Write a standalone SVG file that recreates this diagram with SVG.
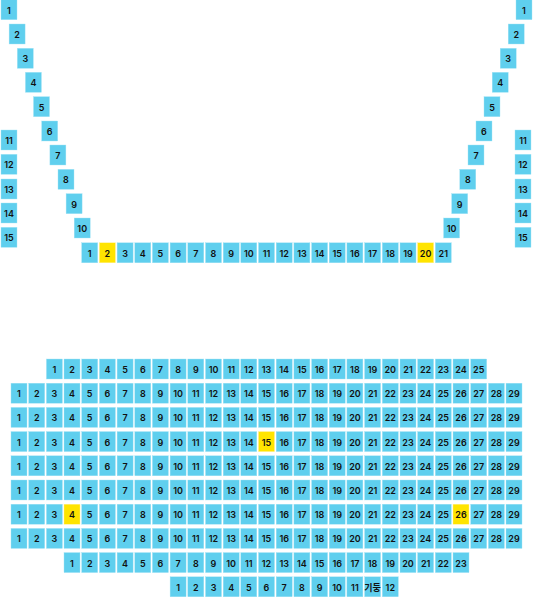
<svg xmlns="http://www.w3.org/2000/svg" width="533" height="597" viewBox="0 0 533 597">
<style>
rect{y:-14px;width:16px;height:20px;fill:#5fcfee;stroke:#a3e4f6;stroke-width:.4px}
rect.h{fill:#ffe400;stroke:#fff09a}
text{font-family:"Inter","Noto Sans CJK KR",sans-serif;font-size:9px;font-weight:600;fill:#111;text-anchor:middle}
</style>
<rect x="0" y="0" width="533" height="597" style="y:0;width:533px;height:597px;fill:#fff;stroke:none"/>
<g id="upper-left">
<g transform="translate(1,13.7)"><rect x="0"/><text x="8">1</text></g>
<g transform="translate(9.1,38)"><rect x="0"/><text x="8">2</text></g>
<g transform="translate(17.3,62.3)"><rect x="0"/><text x="8">3</text></g>
<g transform="translate(25.4,86.3)"><rect x="0"/><text x="8">4</text></g>
<g transform="translate(33.5,110.7)"><rect x="0"/><text x="8">5</text></g>
<g transform="translate(41.7,135)"><rect x="0"/><text x="8">6</text></g>
<g transform="translate(49.9,159)"><rect x="0"/><text x="8">7</text></g>
<g transform="translate(58,183.3)"><rect x="0"/><text x="8">8</text></g>
<g transform="translate(66.1,207.7)"><rect x="0"/><text x="8">9</text></g>
<g transform="translate(74.2,232)"><rect x="0"/><text x="8">10</text></g>
<g transform="translate(1,144)"><rect x="0"/><text x="8">11</text></g>
<g transform="translate(1,168.3)"><rect x="0"/><text x="8">12</text></g>
<g transform="translate(1,193)"><rect x="0"/><text x="8">13</text></g>
<g transform="translate(1,217)"><rect x="0"/><text x="8">14</text></g>
<g transform="translate(1,241.3)"><rect x="0"/><text x="8">15</text></g>
</g>
<g id="upper-right">
<g transform="translate(516,13.7)"><rect x="0"/><text x="8">1</text></g>
<g transform="translate(508.2,38)"><rect x="0"/><text x="8">2</text></g>
<g transform="translate(500.2,62.3)"><rect x="0"/><text x="8">3</text></g>
<g transform="translate(492.2,86.3)"><rect x="0"/><text x="8">4</text></g>
<g transform="translate(484,110.7)"><rect x="0"/><text x="8">5</text></g>
<g transform="translate(476,135)"><rect x="0"/><text x="8">6</text></g>
<g transform="translate(468,159)"><rect x="0"/><text x="8">7</text></g>
<g transform="translate(459.8,183.3)"><rect x="0"/><text x="8">8</text></g>
<g transform="translate(451.7,207.7)"><rect x="0"/><text x="8">9</text></g>
<g transform="translate(443.6,232)"><rect x="0"/><text x="8">10</text></g>
<g transform="translate(515,144)"><rect x="0"/><text x="8">11</text></g>
<g transform="translate(515,168.3)"><rect x="0"/><text x="8">12</text></g>
<g transform="translate(515,193)"><rect x="0"/><text x="8">13</text></g>
<g transform="translate(515,217)"><rect x="0"/><text x="8">14</text></g>
<g transform="translate(515,241.3)"><rect x="0"/><text x="8">15</text></g>
</g>
<g id="upper-front" transform="translate(0,256.8)">
<rect x="81.7"/><text x="89.7">1</text><rect class="h" x="99.4"/><text x="107.4">2</text><rect x="117.1"/><text x="125.1">3</text><rect x="134.8"/><text x="142.8">4</text><rect x="152.4"/><text x="160.4">5</text><rect x="170.1"/><text x="178.1">6</text><rect x="187.8"/><text x="195.8">7</text><rect x="205.5"/><text x="213.5">8</text><rect x="223.2"/><text x="231.2">9</text><rect x="240.8"/><text x="248.8">10</text><rect x="258.5"/><text x="266.5">11</text><rect x="276.2"/><text x="284.2">12</text><rect x="293.9"/><text x="301.9">13</text><rect x="311.6"/><text x="319.6">14</text><rect x="329.2"/><text x="337.2">15</text><rect x="346.9"/><text x="354.9">16</text><rect x="364.6"/><text x="372.6">17</text><rect x="382.3"/><text x="390.3">18</text><rect x="400"/><text x="408">19</text><rect class="h" x="417.6"/><text x="425.6">20</text><rect x="435.3"/><text x="443.3">21</text>
</g>
<g id="row-1" transform="translate(0,373)">
<rect x="46.4"/><text x="54.4">1</text><rect x="64"/><text x="72">2</text><rect x="81.7"/><text x="89.7">3</text><rect x="99.4"/><text x="107.4">4</text><rect x="117.1"/><text x="125.1">5</text><rect x="134.8"/><text x="142.8">6</text><rect x="152.4"/><text x="160.4">7</text><rect x="170.1"/><text x="178.1">8</text><rect x="187.8"/><text x="195.8">9</text><rect x="205.5"/><text x="213.5">10</text><rect x="223.2"/><text x="231.2">11</text><rect x="240.8"/><text x="248.8">12</text><rect x="258.5"/><text x="266.5">13</text><rect x="276.2"/><text x="284.2">14</text><rect x="293.9"/><text x="301.9">15</text><rect x="311.6"/><text x="319.6">16</text><rect x="329.2"/><text x="337.2">17</text><rect x="346.9"/><text x="354.9">18</text><rect x="364.6"/><text x="372.6">19</text><rect x="382.3"/><text x="390.3">20</text><rect x="400"/><text x="408">21</text><rect x="417.6"/><text x="425.6">22</text><rect x="435.3"/><text x="443.3">23</text><rect x="453"/><text x="461">24</text><rect x="470.7"/><text x="478.7">25</text>
</g>
<g id="row-2" transform="translate(0,397.2)">
<rect x="11"/><text x="19">1</text><rect x="28.7"/><text x="36.7">2</text><rect x="46.4"/><text x="54.4">3</text><rect x="64"/><text x="72">4</text><rect x="81.7"/><text x="89.7">5</text><rect x="99.4"/><text x="107.4">6</text><rect x="117.1"/><text x="125.1">7</text><rect x="134.8"/><text x="142.8">8</text><rect x="152.4"/><text x="160.4">9</text><rect x="170.1"/><text x="178.1">10</text><rect x="187.8"/><text x="195.8">11</text><rect x="205.5"/><text x="213.5">12</text><rect x="223.2"/><text x="231.2">13</text><rect x="240.8"/><text x="248.8">14</text><rect x="258.5"/><text x="266.5">15</text><rect x="276.2"/><text x="284.2">16</text><rect x="293.9"/><text x="301.9">17</text><rect x="311.6"/><text x="319.6">18</text><rect x="329.2"/><text x="337.2">19</text><rect x="346.9"/><text x="354.9">20</text><rect x="364.6"/><text x="372.6">21</text><rect x="382.3"/><text x="390.3">22</text><rect x="400"/><text x="408">23</text><rect x="417.6"/><text x="425.6">24</text><rect x="435.3"/><text x="443.3">25</text><rect x="453"/><text x="461">26</text><rect x="470.7"/><text x="478.7">27</text><rect x="488.4"/><text x="496.4">28</text><rect x="506"/><text x="514">29</text>
</g>
<g id="row-3" transform="translate(0,421.4)">
<rect x="11"/><text x="19">1</text><rect x="28.7"/><text x="36.7">2</text><rect x="46.4"/><text x="54.4">3</text><rect x="64"/><text x="72">4</text><rect x="81.7"/><text x="89.7">5</text><rect x="99.4"/><text x="107.4">6</text><rect x="117.1"/><text x="125.1">7</text><rect x="134.8"/><text x="142.8">8</text><rect x="152.4"/><text x="160.4">9</text><rect x="170.1"/><text x="178.1">10</text><rect x="187.8"/><text x="195.8">11</text><rect x="205.5"/><text x="213.5">12</text><rect x="223.2"/><text x="231.2">13</text><rect x="240.8"/><text x="248.8">14</text><rect x="258.5"/><text x="266.5">15</text><rect x="276.2"/><text x="284.2">16</text><rect x="293.9"/><text x="301.9">17</text><rect x="311.6"/><text x="319.6">18</text><rect x="329.2"/><text x="337.2">19</text><rect x="346.9"/><text x="354.9">20</text><rect x="364.6"/><text x="372.6">21</text><rect x="382.3"/><text x="390.3">22</text><rect x="400"/><text x="408">23</text><rect x="417.6"/><text x="425.6">24</text><rect x="435.3"/><text x="443.3">25</text><rect x="453"/><text x="461">26</text><rect x="470.7"/><text x="478.7">27</text><rect x="488.4"/><text x="496.4">28</text><rect x="506"/><text x="514">29</text>
</g>
<g id="row-4" transform="translate(0,445.6)">
<rect x="11"/><text x="19">1</text><rect x="28.7"/><text x="36.7">2</text><rect x="46.4"/><text x="54.4">3</text><rect x="64"/><text x="72">4</text><rect x="81.7"/><text x="89.7">5</text><rect x="99.4"/><text x="107.4">6</text><rect x="117.1"/><text x="125.1">7</text><rect x="134.8"/><text x="142.8">8</text><rect x="152.4"/><text x="160.4">9</text><rect x="170.1"/><text x="178.1">10</text><rect x="187.8"/><text x="195.8">11</text><rect x="205.5"/><text x="213.5">12</text><rect x="223.2"/><text x="231.2">13</text><rect x="240.8"/><text x="248.8">14</text><rect class="h" x="258.5"/><text x="266.5">15</text><rect x="276.2"/><text x="284.2">16</text><rect x="293.9"/><text x="301.9">17</text><rect x="311.6"/><text x="319.6">18</text><rect x="329.2"/><text x="337.2">19</text><rect x="346.9"/><text x="354.9">20</text><rect x="364.6"/><text x="372.6">21</text><rect x="382.3"/><text x="390.3">22</text><rect x="400"/><text x="408">23</text><rect x="417.6"/><text x="425.6">24</text><rect x="435.3"/><text x="443.3">25</text><rect x="453"/><text x="461">26</text><rect x="470.7"/><text x="478.7">27</text><rect x="488.4"/><text x="496.4">28</text><rect x="506"/><text x="514">29</text>
</g>
<g id="row-5" transform="translate(0,469.8)">
<rect x="11"/><text x="19">1</text><rect x="28.7"/><text x="36.7">2</text><rect x="46.4"/><text x="54.4">3</text><rect x="64"/><text x="72">4</text><rect x="81.7"/><text x="89.7">5</text><rect x="99.4"/><text x="107.4">6</text><rect x="117.1"/><text x="125.1">7</text><rect x="134.8"/><text x="142.8">8</text><rect x="152.4"/><text x="160.4">9</text><rect x="170.1"/><text x="178.1">10</text><rect x="187.8"/><text x="195.8">11</text><rect x="205.5"/><text x="213.5">12</text><rect x="223.2"/><text x="231.2">13</text><rect x="240.8"/><text x="248.8">14</text><rect x="258.5"/><text x="266.5">15</text><rect x="276.2"/><text x="284.2">16</text><rect x="293.9"/><text x="301.9">17</text><rect x="311.6"/><text x="319.6">18</text><rect x="329.2"/><text x="337.2">19</text><rect x="346.9"/><text x="354.9">20</text><rect x="364.6"/><text x="372.6">21</text><rect x="382.3"/><text x="390.3">22</text><rect x="400"/><text x="408">23</text><rect x="417.6"/><text x="425.6">24</text><rect x="435.3"/><text x="443.3">25</text><rect x="453"/><text x="461">26</text><rect x="470.7"/><text x="478.7">27</text><rect x="488.4"/><text x="496.4">28</text><rect x="506"/><text x="514">29</text>
</g>
<g id="row-6" transform="translate(0,494)">
<rect x="11"/><text x="19">1</text><rect x="28.7"/><text x="36.7">2</text><rect x="46.4"/><text x="54.4">3</text><rect x="64"/><text x="72">4</text><rect x="81.7"/><text x="89.7">5</text><rect x="99.4"/><text x="107.4">6</text><rect x="117.1"/><text x="125.1">7</text><rect x="134.8"/><text x="142.8">8</text><rect x="152.4"/><text x="160.4">9</text><rect x="170.1"/><text x="178.1">10</text><rect x="187.8"/><text x="195.8">11</text><rect x="205.5"/><text x="213.5">12</text><rect x="223.2"/><text x="231.2">13</text><rect x="240.8"/><text x="248.8">14</text><rect x="258.5"/><text x="266.5">15</text><rect x="276.2"/><text x="284.2">16</text><rect x="293.9"/><text x="301.9">17</text><rect x="311.6"/><text x="319.6">18</text><rect x="329.2"/><text x="337.2">19</text><rect x="346.9"/><text x="354.9">20</text><rect x="364.6"/><text x="372.6">21</text><rect x="382.3"/><text x="390.3">22</text><rect x="400"/><text x="408">23</text><rect x="417.6"/><text x="425.6">24</text><rect x="435.3"/><text x="443.3">25</text><rect x="453"/><text x="461">26</text><rect x="470.7"/><text x="478.7">27</text><rect x="488.4"/><text x="496.4">28</text><rect x="506"/><text x="514">29</text>
</g>
<g id="row-7" transform="translate(0,518.2)">
<rect x="11"/><text x="19">1</text><rect x="28.7"/><text x="36.7">2</text><rect x="46.4"/><text x="54.4">3</text><rect class="h" x="64"/><text x="72">4</text><rect x="81.7"/><text x="89.7">5</text><rect x="99.4"/><text x="107.4">6</text><rect x="117.1"/><text x="125.1">7</text><rect x="134.8"/><text x="142.8">8</text><rect x="152.4"/><text x="160.4">9</text><rect x="170.1"/><text x="178.1">10</text><rect x="187.8"/><text x="195.8">11</text><rect x="205.5"/><text x="213.5">12</text><rect x="223.2"/><text x="231.2">13</text><rect x="240.8"/><text x="248.8">14</text><rect x="258.5"/><text x="266.5">15</text><rect x="276.2"/><text x="284.2">16</text><rect x="293.9"/><text x="301.9">17</text><rect x="311.6"/><text x="319.6">18</text><rect x="329.2"/><text x="337.2">19</text><rect x="346.9"/><text x="354.9">20</text><rect x="364.6"/><text x="372.6">21</text><rect x="382.3"/><text x="390.3">22</text><rect x="400"/><text x="408">23</text><rect x="417.6"/><text x="425.6">24</text><rect x="435.3"/><text x="443.3">25</text><rect class="h" x="453"/><text x="461">26</text><rect x="470.7"/><text x="478.7">27</text><rect x="488.4"/><text x="496.4">28</text><rect x="506"/><text x="514">29</text>
</g>
<g id="row-8" transform="translate(0,542.4)">
<rect x="11"/><text x="19">1</text><rect x="28.7"/><text x="36.7">2</text><rect x="46.4"/><text x="54.4">3</text><rect x="64"/><text x="72">4</text><rect x="81.7"/><text x="89.7">5</text><rect x="99.4"/><text x="107.4">6</text><rect x="117.1"/><text x="125.1">7</text><rect x="134.8"/><text x="142.8">8</text><rect x="152.4"/><text x="160.4">9</text><rect x="170.1"/><text x="178.1">10</text><rect x="187.8"/><text x="195.8">11</text><rect x="205.5"/><text x="213.5">12</text><rect x="223.2"/><text x="231.2">13</text><rect x="240.8"/><text x="248.8">14</text><rect x="258.5"/><text x="266.5">15</text><rect x="276.2"/><text x="284.2">16</text><rect x="293.9"/><text x="301.9">17</text><rect x="311.6"/><text x="319.6">18</text><rect x="329.2"/><text x="337.2">19</text><rect x="346.9"/><text x="354.9">20</text><rect x="364.6"/><text x="372.6">21</text><rect x="382.3"/><text x="390.3">22</text><rect x="400"/><text x="408">23</text><rect x="417.6"/><text x="425.6">24</text><rect x="435.3"/><text x="443.3">25</text><rect x="453"/><text x="461">26</text><rect x="470.7"/><text x="478.7">27</text><rect x="488.4"/><text x="496.4">28</text><rect x="506"/><text x="514">29</text>
</g>
<g id="row-9" transform="translate(0,566.6)">
<rect x="64"/><text x="72">1</text><rect x="81.7"/><text x="89.7">2</text><rect x="99.4"/><text x="107.4">3</text><rect x="117.1"/><text x="125.1">4</text><rect x="134.8"/><text x="142.8">5</text><rect x="152.4"/><text x="160.4">6</text><rect x="170.1"/><text x="178.1">7</text><rect x="187.8"/><text x="195.8">8</text><rect x="205.5"/><text x="213.5">9</text><rect x="223.2"/><text x="231.2">10</text><rect x="240.8"/><text x="248.8">11</text><rect x="258.5"/><text x="266.5">12</text><rect x="276.2"/><text x="284.2">13</text><rect x="293.9"/><text x="301.9">14</text><rect x="311.6"/><text x="319.6">15</text><rect x="329.2"/><text x="337.2">16</text><rect x="346.9"/><text x="354.9">17</text><rect x="364.6"/><text x="372.6">18</text><rect x="382.3"/><text x="390.3">19</text><rect x="400"/><text x="408">20</text><rect x="417.6"/><text x="425.6">21</text><rect x="435.3"/><text x="443.3">22</text><rect x="453"/><text x="461">23</text>
</g>
<g id="row-10" transform="translate(0,590.8)">
<rect x="170.1"/><text x="178.1">1</text><rect x="187.8"/><text x="195.8">2</text><rect x="205.5"/><text x="213.5">3</text><rect x="223.2"/><text x="231.2">4</text><rect x="240.8"/><text x="248.8">5</text><rect x="258.5"/><text x="266.5">6</text><rect x="276.2"/><text x="284.2">7</text><rect x="293.9"/><text x="301.9">8</text><rect x="311.6"/><text x="319.6">9</text><rect x="329.2"/><text x="337.2">10</text><rect x="346.9"/><text x="354.9">11</text><rect x="364.6"/><text x="372.6">기둥</text><rect x="382.3"/><text x="390.3">12</text>
</g>
</svg>
